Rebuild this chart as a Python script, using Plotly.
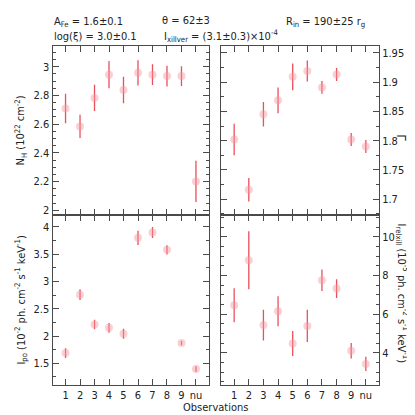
import plotly.graph_objects as go

obs_pos = [1, 2, 3, 4, 5, 6, 7, 8, 9, 10]
obs_labels = ["1", "2", "3", "4", "5", "6", "7", "8", "9", "nu"]

nh = [2.709, 2.584, 2.783, 2.945, 2.838, 2.958, 2.945, 2.935, 2.935, 2.201]
nh_err = [0.103, 0.081, 0.091, 0.095, 0.093, 0.088, 0.072, 0.072, 0.069, 0.144]

gamma = [1.802, 1.716, 1.845, 1.869, 1.909, 1.919, 1.891, 1.913, 1.802, 1.790]
gamma_err = [0.027, 0.020, 0.021, 0.022, 0.023, 0.018, 0.011, 0.011, 0.011, 0.011]

ipo = [1.688, 2.758, 2.211, 2.150, 2.041, 3.798, 3.895, 3.579, 1.871, 1.397]
ipo_err = [0.09, 0.10, 0.085, 0.09, 0.09, 0.13, 0.10, 0.085, 0.04, 0.05]

irel = [6.46, 8.79, 5.43, 6.15, 4.48, 5.39, 7.75, 7.32, 4.10, 3.42]
irel_err = [0.88, 1.50, 0.80, 0.78, 0.65, 0.84, 0.56, 0.49, 0.40, 0.37]

FONT = "Liberation Sans Narrow, DejaVu Sans Condensed, Roboto Condensed, Liberation Sans, sans-serif"
W = H = 415
MARK = "rgba(246,150,160,0.45)"
ERR = "rgba(232,60,72,0.9)"
AX = "#4a4a4a"

def px(v):
    return v / W

def py(v):
    return 1 - v / H

fig = go.Figure()

panels = [
    ("x3", "y3", nh, nh_err),
    ("x4", "y4", gamma, gamma_err),
    ("x", "y", ipo, ipo_err),
    ("x2", "y2", irel, irel_err),
]
for xa, ya, vals, errs in panels:
    fig.add_trace(go.Scatter(
        x=obs_pos, y=vals, mode="markers", xaxis=xa, yaxis=ya,
        marker=dict(size=8, color=MARK, line=dict(width=0)),
        error_y=dict(type="data", array=errs, visible=True, color=ERR,
                     thickness=1.3, width=0),
        showlegend=False, hoverinfo="skip",
    ))

xl = [px(44.5), px(201)]
xr = [px(213), px(371)]
yt = [py(208), py(38)]
yb = [py(379), py(208)]

def xax(domain, anchor, labels):
    return dict(
        domain=domain, anchor=anchor, range=[0.1, 10.9],
        tickmode="array", tickvals=obs_pos, ticktext=obs_labels,
        showticklabels=labels, ticks="inside", ticklen=6, tickwidth=1,
        tickcolor=AX, showline=True, linecolor=AX, linewidth=1,
        mirror="allticks", showgrid=False, zeroline=False,
        tickfont=dict(family=FONT, size=11, color="#222"),
    )

def yax(domain, anchor, rng, dt, mdt, side):
    return dict(
        domain=domain, anchor=anchor, range=rng, side=side,
        dtick=dt, tick0=0, ticks="inside", ticklen=6, tickwidth=1,
        tickcolor=AX, showline=True, linecolor=AX, linewidth=1,
        mirror="allticks", showgrid=False, zeroline=False,
        minor=dict(dtick=mdt, ticks="inside", ticklen=3, tickcolor=AX,
                   showgrid=False),
        tickfont=dict(family=FONT, size=11, color="#222"),
    )

fig.update_layout(
    width=W, height=H, margin=dict(l=0, r=0, t=0, b=0),
    paper_bgcolor="white", plot_bgcolor="white",
    xaxis=xax(xl, "y", True),
    yaxis=yax(yb, "x", [1.1, 4.216], 0.5, 0.25, "left"),
    xaxis2=xax(xr, "y2", True),
    yaxis2=yax(yb, "x2", [2.32, 11.13], 2, 0.5, "right"),
    xaxis3=xax(xl, "y3", False),
    yaxis3=yax(yt, "x3", [1.967, 3.146], 0.2, 0.05, "left"),
    xaxis4=xax(xr, "y4", False),
    yaxis4=yax(yt, "x4", [1.673, 1.962], 0.05, 0.025, "right"),
)

def ann(text, x, y, xanchor="left", yanchor="middle", angle=0, size=11):
    fig.add_annotation(
        text=text, x=x, y=y, xref="paper", yref="paper",
        xanchor=xanchor, yanchor=yanchor, textangle=angle,
        showarrow=False, font=dict(family=FONT, size=size, color="#222"),
    )

ann("A<sub>Fe</sub> = 1.6±0.1", px(44), py(14))
ann("θ = 62±3", px(152), py(13))
ann("R<sub>in</sub> = 190±25 r<sub>g</sub>", px(276), py(14))
ann("log(ξ) = 3.0±0.1", px(44), py(29))
ann("I<sub>xillver</sub> = (3.1±0.3)×10<sup>-4</sup>", px(154), py(28))

ann("N<sub>H</sub> (10<sup>22</sup> cm<sup>-2</sup>)", px(13), py(123),
    xanchor="center", angle=-90)
ann("I<sub>po</sub> (10<sup>-2</sup> ph. cm<sup>-2</sup> s<sup>-1</sup> keV<sup>-1</sup>)",
    px(13), py(293), xanchor="center", angle=-90)
ann("Γ", px(394), py(130), xanchor="center", angle=90, size=13)
ann("I<sub>relxill</sub> (10<sup>-5</sup> ph. cm<sup>-2</sup> s<sup>-1</sup> keV<sup>-1</sup>)",
    px(394), py(287), xanchor="center", angle=90)
ann("Observations", px(207), py(401), xanchor="center")

fig.write_html("out.html")
